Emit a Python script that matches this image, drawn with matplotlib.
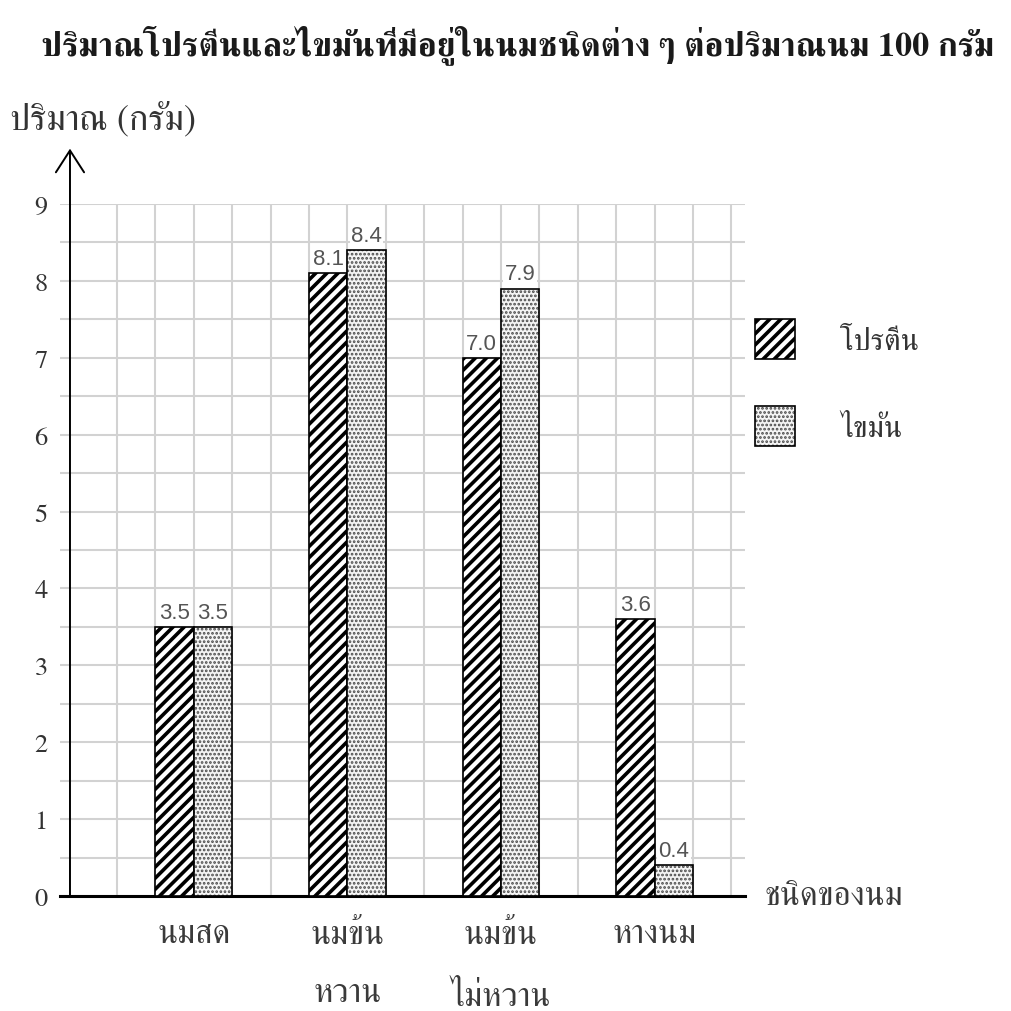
import numpy as np
import matplotlib
matplotlib.use("Agg")
import matplotlib.pyplot as plt
from matplotlib.patches import Patch

# FONTS (FreeSerif has the Thai glyphs)
plt.rcParams['font.family'] = ['FreeSerif', 'DejaVu Sans']
plt.rcParams['hatch.linewidth'] = 1.3

# DATA
milk_types = ["นมสด", "นมข้น\nหวาน", "นมข้น\nไม่หวาน", "หางนม"]
protein = [3.5, 8.1, 7.0, 3.6]
fat = [3.5, 8.4, 7.9, 0.4]
series_names = ["โปรตีน", "ไขมัน"]
y_ticks = [0, 1, 2, 3, 4, 5, 6, 7, 8, 9]

TITLE = "ปริมาณโปรตีนและไขมันที่มีอยู่ในนมชนิดต่าง ๆ ต่อปริมาณนม 100 กรัม"
Y_LABEL = "ปริมาณ (กรัม)"
X_LABEL = "ชนิดของนม"

# STYLE
PROTEIN_STYLE = dict(facecolor='white', edgecolor='black', hatch='///', linewidth=1.2)
FAT_FILL = dict(facecolor='#f4f4f4', edgecolor='#4a4a4a', hatch='....', linewidth=0)
FAT_EDGE = dict(fill=False, edgecolor='black', linewidth=1.2)
GRID_COLOR = '#d2d2d2'
STRIPE_LW = 2.6


def thick_stripes(patches):
    # heavier hatch lines for the protein bars only
    for p in patches:
        if hasattr(p, 'set_hatch_linewidth'):
            p.set_hatch_linewidth(STRIPE_LW)


fig = plt.figure(figsize=(10.11, 10.12), dpi=100)
ax = fig.add_axes([60 / 1011, 115 / 1012, 685 / 1011, 692 / 1012])

# one grid cell = 1 x-unit, groups sit on every 4th grid line
centers = np.array([3, 7, 11, 15])
w = 1.0

b1 = ax.bar(centers - w / 2, protein, w, zorder=3, **PROTEIN_STYLE)
thick_stripes(b1)
b2 = ax.bar(centers + w / 2, fat, w, zorder=3, **FAT_FILL)
ax.bar(centers + w / 2, fat, w, zorder=4, **FAT_EDGE)

# value labels
lab_kw = dict(padding=3, fontsize=16, color='#555555', family='Liberation Sans',
              bbox=dict(facecolor='white', edgecolor='none', pad=1.0), zorder=5)
ax.bar_label(b1, labels=[f"{v:.1f}" for v in protein], **lab_kw)
ax.bar_label(b2, labels=[f"{v:.1f}" for v in fat], **lab_kw)

# axes limits / grid
ax.set_xlim(-0.484, 17.354)
ax.set_ylim(0, 9)
ax.set_xticks(centers)
ax.set_xticklabels(milk_types)
ax.set_xticks([k for k in range(1, 18) if k not in centers], minor=True)
ax.set_yticks(y_ticks)
ax.set_yticks(np.arange(0.5, 9, 1.0), minor=True)
ax.grid(which='both', color=GRID_COLOR, linewidth=1.5, zorder=0)
ax.set_axisbelow(True)

ax.tick_params(axis='both', which='both', length=0)
ax.tick_params(axis='y', labelsize=19, pad=9, labelcolor='#333333')
ax.tick_params(axis='x', labelsize=24, pad=17, labelcolor='#3a3a3a')
for lbl in ax.get_xticklabels():
    lbl.set_linespacing(2.3)

for s in ['top', 'right', 'left']:
    ax.spines[s].set_visible(False)
ax.spines['bottom'].set_linewidth(2.2)
ax.spines['bottom'].set_color('black')

# y axis with arrow head
ax.annotate('', xy=(-0.224, 9.72), xytext=(-0.224, 0),
            arrowprops=dict(arrowstyle='->,head_length=0.45,head_width=0.29',
                            mutation_scale=35, lw=1.4, color='black',
                            shrinkA=0, shrinkB=0),
            annotation_clip=False)

# texts
fig.text(0.512, 1 - 45 / 1012, TITLE, ha='center', va='center',
         fontsize=24.5, fontweight='bold', color='#1a1a1a')
fig.text(10 / 1011, 1 - 120 / 1012, Y_LABEL, ha='left', va='center',
         fontsize=26, color='#333333')
fig.text(765 / 1011, 1 - 897 / 1012, X_LABEL, ha='left', va='center',
         fontsize=24, color='#3a3a3a')

# legend
handles = [Patch(**PROTEIN_STYLE), (Patch(**FAT_FILL), Patch(**FAT_EDGE))]
leg = fig.legend(handles, series_names, loc='upper left',
                 bbox_to_anchor=(755 / 1011, 1 - 320 / 1012),
                 frameon=False, fontsize=22, handlelength=1.31, handleheight=1.63,
                 handletextpad=1.47, labelspacing=1.55, borderpad=0, borderaxespad=0,
                 labelcolor='#333333')
thick_stripes(leg.legend_handles[:1])

fig.savefig("out.png", dpi=100)
